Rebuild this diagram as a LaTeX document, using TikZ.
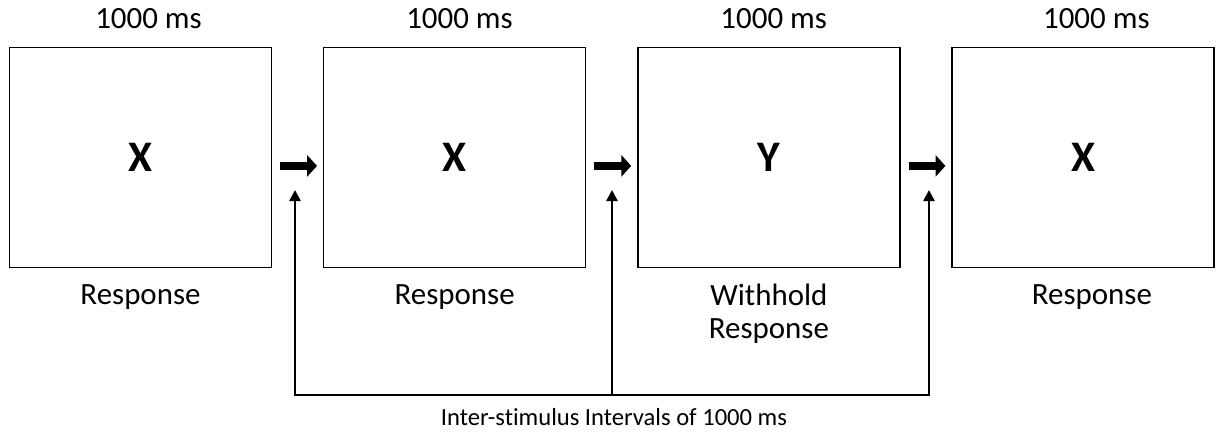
\documentclass[tikz,border=0pt]{standalone}
\usepackage{fontspec}
\setmainfont{Carlito}[Ligatures=NoCommon]
\usetikzlibrary{positioning,arrows.meta}

\begin{document}
\begin{tikzpicture}[node distance=1.27cm,
	screen/.style={draw,line width=1pt,minimum width=6.55cm,minimum height=5.5cm,inner sep=0pt,font=\fontsize{31}{36}\selectfont\bfseries},
	caption/.style={font=\fontsize{22}{23}\selectfont,align=center,inner sep=0pt},
	next/.style={line width=6pt,-{Triangle[length=7pt,width=15pt]},shorten <=0.2cm,shorten >=0.15cm},
	isi/.style={line width=1.8pt},
	isiup/.style={isi,-{Triangle[length=8pt,width=8pt]}}]
\useasboundingbox (0,0) rectangle (30.5,-10.8);
% the four screens
\node [screen] (s1) at (3.5125,-3.9375) {X};
\node [screen,right=of s1] (s2) {X};
\node [screen,right=of s2] (s3) {Y};
\node [screen,right=of s3] (s4) {X};
% durations and responses
\node [caption,above=0.45cm of s1,xshift=0.2cm] (d1) {1000 ms};
\node [caption,above=0.45cm of s2,xshift=0.12cm] (d2) {1000 ms};
\node [caption,above=0.45cm of s3,xshift=0.12cm] (d3) {1000 ms};
\node [caption,above=0.45cm of s4,xshift=0.33cm] (d4) {1000 ms};
\node [caption,below=0.4cm of s1] (r1) {Response};
\node [caption,below=0.4cm of s2] (r2) {Response};
\node [caption,below=0.4cm of s3] (r3) {Withhold\\Response};
\node [caption,below=0.4cm of s4,xshift=0.22cm] (r4) {Response};
% sequence arrows
\draw[next] ([yshift=-0.21cm]s1.east) -- ([yshift=-0.21cm]s2.west);
\draw[next] ([yshift=-0.21cm]s2.east) -- ([yshift=-0.21cm]s3.west);
\draw[next] ([yshift=-0.21cm]s3.east) -- ([yshift=-0.21cm]s4.west);
% inter-stimulus intervals
\coordinate (t1) at (7.375,-4.75);
\coordinate (t2) at (15.3,-4.75);
\coordinate (t3) at (23.225,-4.75);
\coordinate (b1) at (7.375,-9.875);
\coordinate (b2) at (15.3,-9.875);
\coordinate (b3) at (23.225,-9.875);
\draw[isi,line cap=rect] (b1) -- (b3);
\draw[isiup] (b1) -- (t1);
\draw[isiup] (b2) -- (t2);
\draw[isiup] (b3) -- (t3);
\node [font=\fontsize{17.5}{20}\selectfont,inner sep=0pt] (isitext) at (15.35,-10.43) {Inter-stimulus Intervals of 1000 ms};
\end{tikzpicture}
\end{document}
